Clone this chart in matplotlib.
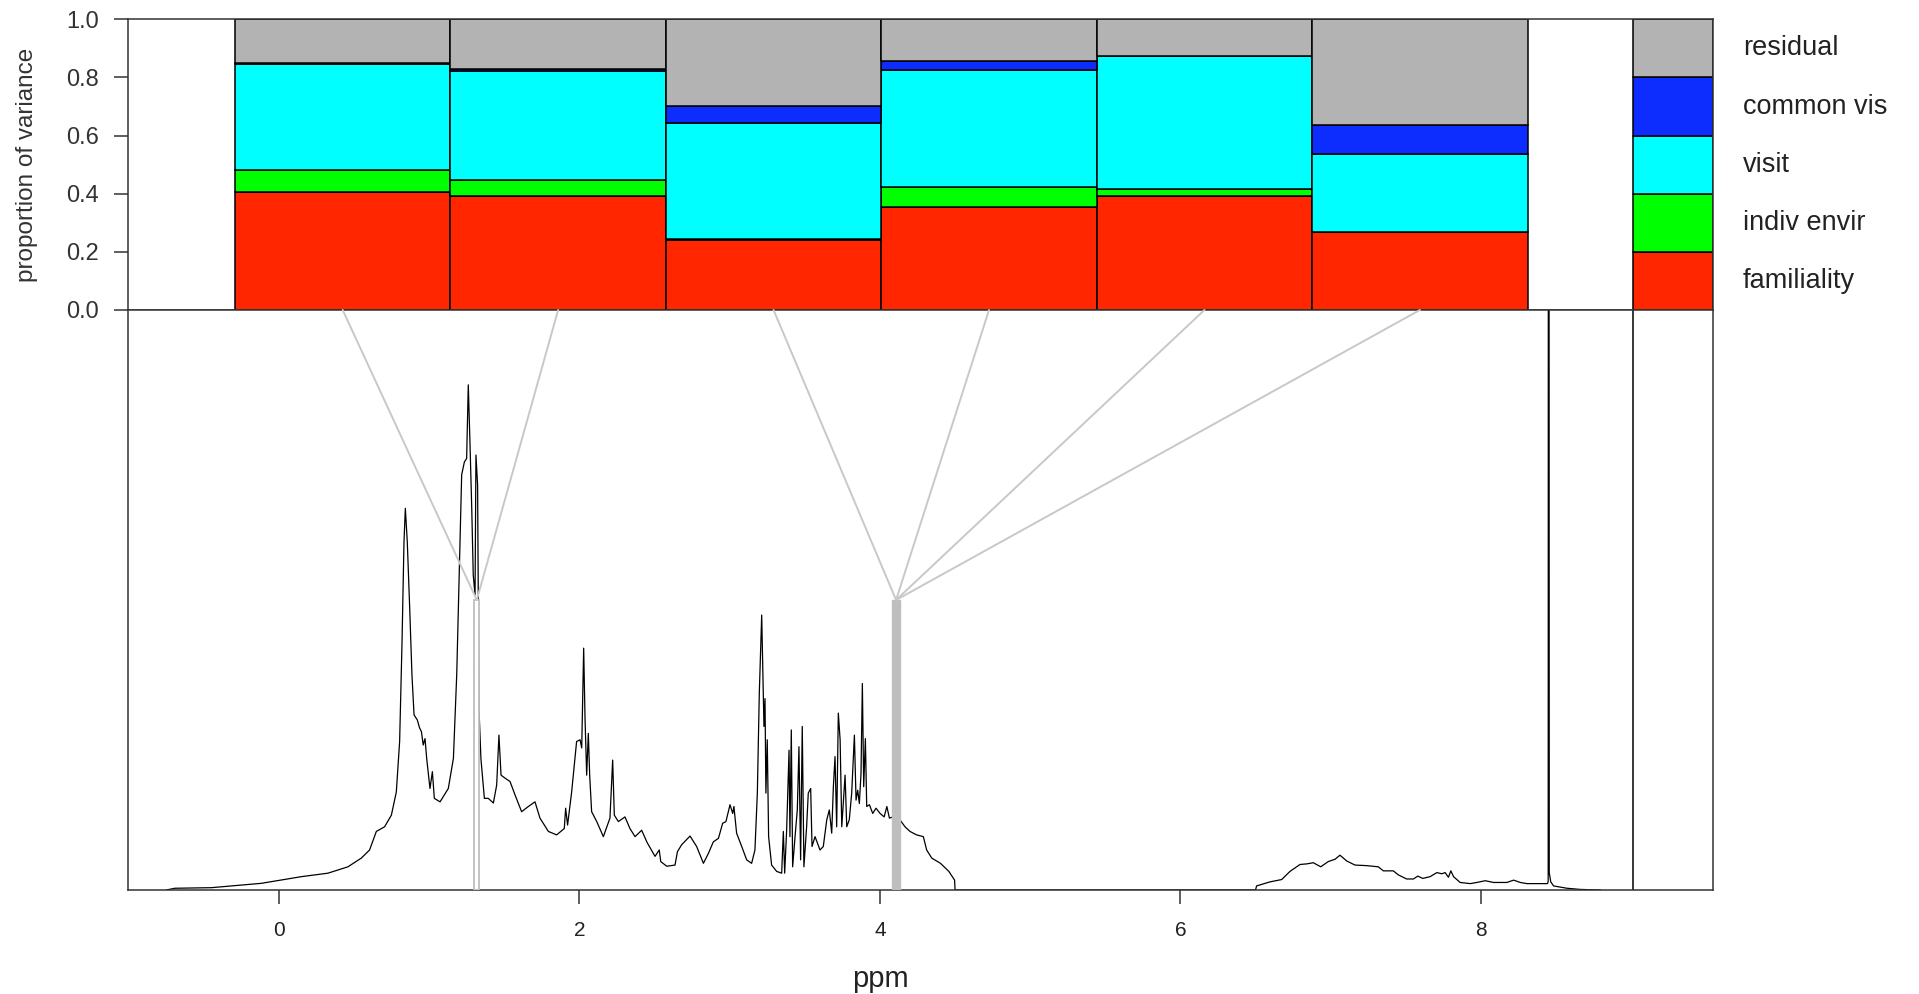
import numpy as np
import matplotlib
matplotlib.use("Agg")
import matplotlib.pyplot as plt
from matplotlib.patches import Rectangle, ConnectionPatch

plt.rcParams['font.family'] = ['Liberation Sans', 'DejaVu Sans']

# variance components for the six spectral regions (bottom to top)
components = ['familiality', 'indiv envir', 'visit', 'common vis', 'residual']
comp_colors = ['#FF2600', '#00FF00', '#00FFFF', '#0D2DFF', '#B3B3B3']
familiality = [0.406, 0.391, 0.241, 0.353, 0.391, 0.267]
indiv_envir = [0.076, 0.056, 0.004, 0.071, 0.024, 0.003]
visit       = [0.363, 0.375, 0.399, 0.402, 0.458, 0.268]
common_vis  = [0.005, 0.006, 0.058, 0.029, 0.002, 0.097]
residual    = [0.150, 0.172, 0.298, 0.145, 0.125, 0.365]
key_share   = [0.2, 0.2, 0.2, 0.2, 0.2]

# which spectral band each bar belongs to (lactate 1.31 and 4.11 ppm)
bands = [(1.300, 1.333), (4.082, 4.133)]
bar_band = [0, 0, 1, 1, 1, 1]

# spectrum (ppm, intensity)
ppm = [-0.75, -0.694, -0.45, -0.118, 0.149, 0.326, 0.459, 0.548, 0.603, 0.648,
       0.703, 0.748, 0.781, 0.803, 0.819, 0.832, 0.841, 0.854, 0.870, 0.885,
       0.899, 0.921, 0.935, 0.948, 0.960, 0.972, 0.983, 1.005, 1.021, 1.034,
       1.072, 1.127, 1.161, 1.183, 1.194, 1.205, 1.216, 1.234, 1.249, 1.260,
       1.271, 1.283, 1.293, 1.305, 1.311, 1.322, 1.327, 1.331, 1.344, 1.367,
       1.393, 1.427, 1.449, 1.464, 1.478, 1.504, 1.538, 1.571, 1.615, 1.660,
       1.704, 1.737, 1.793, 1.848, 1.899, 1.908, 1.921, 1.948, 1.981, 2.004,
       2.015, 2.028, 2.037, 2.048, 2.059, 2.068, 2.081, 2.115, 2.159, 2.203,
       2.221, 2.232, 2.259, 2.303, 2.336, 2.370, 2.414, 2.450, 2.503, 2.531,
       2.541, 2.581, 2.636, 2.652, 2.680, 2.736, 2.780, 2.825, 2.858, 2.891,
       2.925, 2.953, 2.975, 3.002, 3.020, 3.028, 3.046, 3.080, 3.113, 3.146,
       3.168, 3.184, 3.197, 3.213, 3.219, 3.228, 3.235, 3.241, 3.250, 3.259,
       3.279, 3.313, 3.346, 3.357, 3.366, 3.379, 3.395, 3.401, 3.410, 3.419,
       3.435, 3.450, 3.461, 3.472, 3.483, 3.494, 3.512, 3.523, 3.539, 3.548,
       3.568, 3.601, 3.623, 3.646, 3.663, 3.679, 3.690, 3.701, 3.712, 3.723,
       3.735, 3.746, 3.757, 3.768, 3.779, 3.796, 3.812, 3.830, 3.841, 3.852,
       3.863, 3.874, 3.883, 3.892, 3.903, 3.912, 3.930, 3.952, 3.974, 4.001,
       4.028, 4.046, 4.063, 4.089, 4.133, 4.167, 4.200, 4.244, 4.289, 4.311,
       4.345, 4.403, 4.459, 4.497, 4.500, 6.500, 6.507, 6.596, 6.674, 6.729,
       6.796, 6.840, 6.885, 6.934, 6.984, 7.029, 7.062, 7.107, 7.162, 7.240,
       7.317, 7.351, 7.417, 7.451, 7.506, 7.551, 7.580, 7.613, 7.662, 7.707,
       7.740, 7.762, 7.784, 7.800, 7.818, 7.862, 7.929, 7.973, 8.029, 8.084,
       8.173, 8.218, 8.262, 8.307, 8.444, 8.448, 8.451, 8.455, 8.465, 8.484,
       8.573, 8.662, 8.795]
intensity = [0.0, 0.3, 0.4, 1.15, 2.3, 2.9, 4.0, 5.5, 6.9, 10.1,
             10.9, 12.9, 16.9, 25.6, 42.8, 60.0, 65.8, 60.0, 48.6, 37.1,
             30.2, 29.3, 28.0, 27.3, 25.0, 26.1, 22.7, 17.5, 20.4, 15.8,
             15.2, 17.5, 22.7, 37.1, 48.6, 60.0, 71.6, 73.8, 74.4, 87.1,
             77.3, 65.8, 54.3, 50.9, 75.0, 69.8, 48.6, 31.4, 22.7, 15.8,
             15.8, 15.0, 18.1, 26.7, 19.8, 19.3, 18.7, 16.4, 13.5, 14.4,
             15.2, 12.4, 10.1, 9.5, 10.6, 14.1, 11.2, 16.9, 25.6, 25.9,
             24.5, 41.7, 29.6, 19.8, 27.0, 19.8, 13.5, 11.8, 9.2, 12.4,
             22.4, 12.9, 11.8, 12.6, 10.6, 9.2, 10.3, 8.2, 5.8, 6.9,
             4.9, 4.1, 4.3, 6.6, 7.8, 9.3, 7.5, 4.6, 6.3, 8.3,
             8.9, 11.5, 11.8, 14.7, 13.2, 14.4, 9.8, 7.5, 5.2, 4.6,
             6.9, 16.7, 33.9, 47.4, 39.7, 28.2, 33.0, 16.7, 25.9, 9.2,
             4.3, 3.2, 2.9, 10.1, 2.9, 10.3, 24.1, 9.2, 27.6, 4.0,
             9.2, 13.8, 24.7, 5.2, 28.2, 4.0, 10.9, 16.7, 17.5, 7.5,
             9.2, 6.9, 7.5, 12.1, 13.8, 9.8, 17.8, 23.0, 10.9, 30.5,
             25.9, 10.9, 15.5, 19.8, 10.9, 12.1, 16.7, 26.7, 15.5, 17.2,
             14.9, 20.1, 35.6, 17.8, 26.1, 14.4, 14.7, 13.2, 14.1, 13.2,
             12.6, 14.4, 12.4, 12.6, 12.1, 10.9, 10.1, 9.5, 9.2, 6.9,
             5.5, 4.6, 3.2, 1.7, 0.0, 0.0, 0.7, 1.4, 1.8, 3.2,
             4.4, 4.5, 4.7, 4.0, 4.9, 5.3, 6.0, 5.0, 4.3, 4.2,
             4.0, 3.3, 3.3, 2.6, 1.9, 1.9, 2.4, 2.0, 2.3, 3.0,
             2.8, 3.0, 2.2, 3.3, 2.3, 1.3, 1.1, 1.3, 1.6, 1.3,
             1.3, 1.7, 1.3, 1.1, 1.1, 1.5, 400.0, 3.0, 1.4, 0.7,
             0.3, 0.1, 0.0]

W, H = 1919, 994
fig = plt.figure(figsize=(W / 100, H / 100), dpi=100)
x0, x1 = 128, 1713
ax_top = fig.add_axes([x0 / W, 1 - 310 / H, (x1 - x0) / W, (310 - 19.3) / H])
ax_bot = fig.add_axes([x0 / W, 1 - 890 / H, (x1 - x0) / W, (890 - 310) / H])

xlim = (-1.005, 9.545)
spine_col = '#333333'
for ax in (ax_top, ax_bot):
    ax.set_xlim(*xlim)
    for s in ax.spines.values():
        s.set_color(spine_col)
        s.set_linewidth(1.1)

# top: stacked variance bars
stack = np.array([familiality, indiv_envir, visit, common_vis, residual])
bar_left = -0.293
bar_w = 1.434
lefts = bar_left + bar_w * np.arange(stack.shape[1])
bottom = np.zeros(stack.shape[1])
for vals, col in zip(stack, comp_colors):
    ax_top.bar(lefts, vals, width=bar_w, bottom=bottom, align='edge',
               color=col, edgecolor='black', linewidth=1.1)
    bottom += vals

# colour key at the right end
key_left = 9.012
kb = 0.0
for share, col, name in zip(key_share, comp_colors, components):
    ax_top.bar(key_left, share, width=xlim[1] - key_left, bottom=kb, align='edge',
               color=col, edgecolor='black', linewidth=1.1)
    ax_top.annotate(name, xy=(1743 / W, kb + share / 2),
                    xycoords=('figure fraction', 'data'),
                    ha='left', va='center', fontsize=19.5, color='#222222',
                    annotation_clip=False)
    kb += share

ax_top.set_ylim(0, 1)
ax_top.set_yticks([0.0, 0.2, 0.4, 0.6, 0.8, 1.0])
ax_top.set_yticklabels(['0.0', '0.2', '0.4', '0.6', '0.8', '1.0'])
ax_top.tick_params(axis='y', length=10, width=1.1, color=spine_col,
                   labelsize=17, labelcolor='#333333', pad=11)
ax_top.set_xticks([])
fig.text(26.7 / W, 1 - 165 / H, 'proportion of variance', rotation=90,
         ha='center', va='center', fontsize=17.5, color='#333333')

# bottom: spectrum
ax_bot.plot(ppm, intensity, color='black', linewidth=0.9, zorder=2)
ax_bot.set_ylim(0, 100)
ax_bot.set_yticks([])
ax_bot.set_xticks([0, 2, 4, 6, 8])
ax_bot.set_xticklabels(['0', '2', '4', '6', '8'])
ax_bot.tick_params(axis='x', length=10, width=1.1, color=spine_col,
                   labelsize=15, labelcolor='#222222', pad=12)
ax_bot.axvline(key_left, color='black', linewidth=1.1)
fig.text(880 / W, 1 - 979 / H, 'ppm', ha='center', va='center',
         fontsize=21, color='#222222')

band_top = 50
ax_bot.add_patch(Rectangle((bands[0][0], 0), bands[0][1] - bands[0][0], band_top,
                           facecolor='white', edgecolor='#BEBEBE', linewidth=1.3,
                           zorder=3))
ax_bot.add_patch(Rectangle((bands[1][0], 0), bands[1][1] - bands[1][0], band_top,
                           facecolor='#BEBEBE', edgecolor='#BEBEBE', linewidth=1.0,
                           zorder=3))

# lines linking each bar to its band
for left, b in zip(lefts, bar_band):
    cx = left + bar_w / 2
    bx = (bands[b][0] + bands[b][1]) / 2
    con = ConnectionPatch(xyA=(cx, 0), coordsA=ax_top.transData,
                          xyB=(bx, band_top), coordsB=ax_bot.transData,
                          color='#C8C8C8', linewidth=1.4, zorder=4)
    fig.add_artist(con)

fig.savefig('out.png', dpi=100)
